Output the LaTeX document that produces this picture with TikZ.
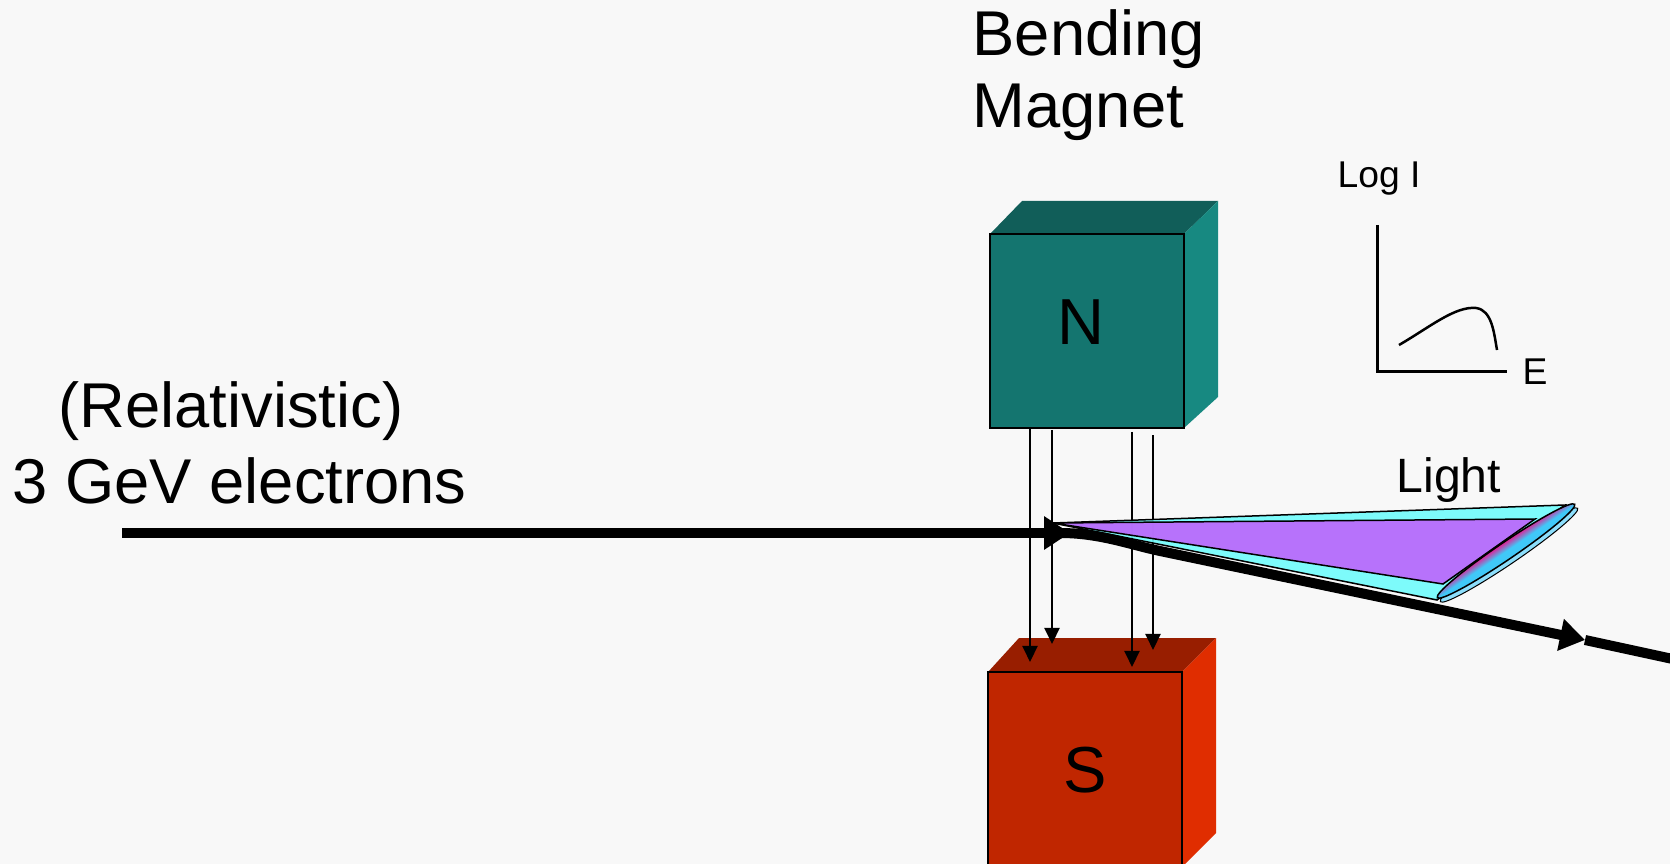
\documentclass[tikz,border=0pt]{standalone}
\usepackage{fontspec}
\setmainfont{Liberation Sans}
\usepackage{tikz}
\tikzset{>=latex}
\usetikzlibrary{arrows.meta}
\usetikzlibrary{calc}
\definecolor{paper}{HTML}{F8F8F8}
\definecolor{northfront}{RGB}{20,117,111}
\definecolor{northtop}{RGB}{17,94,89}
\definecolor{northside}{RGB}{23,137,129}
\definecolor{southfront}{RGB}{192,38,0}
\definecolor{southtop}{RGB}{152,30,0}
\definecolor{southside}{RGB}{224,45,0}
\definecolor{lightouter}{RGB}{112,252,252}
\definecolor{lightinner}{RGB}{190,100,252}
\definecolor{spotblue}{RGB}{64,200,248}
\definecolor{spotpink}{RGB}{224,32,150}

\begin{document}
\begin{tikzpicture}[x=0.01cm,y=-0.01cm,
    beam/.style={line width=0.1cm},
    fieldline/.style={line width=0.02cm,-{Triangle[length=0.16cm,width=0.15cm]}},
    face/.style={line width=0.025cm},
    cone/.style={draw=black,line width=0.015cm,fill opacity=0.9},
    bigtext/.style={inner sep=0pt,font=\fontsize{18}{20.5}\selectfont},
    poletext/.style={inner sep=0pt,font=\fontsize{18.5}{21}\selectfont},
    smalltext/.style={inner sep=0pt,font=\fontsize{10.6}{12}\selectfont}
  ]
  \fill[paper] (0,0) rectangle (1670,864);
  \useasboundingbox (0,0) rectangle (1670,864);

  % south pole
  \fill[southtop] (988,672) -- (1019,638) -- (1216,638) -- (1182,672) -- cycle;
  \fill[southside] (1182,672) -- (1216,638) -- (1216,833) -- (1182,867) -- cycle;
  \filldraw[fill=southfront,face] (988,672) rectangle (1182,890);
  \node[poletext] (south) at (1085,770) {S};

  % north pole
  \fill[northtop] (990,234) -- (1022,201) -- (1218,201) -- (1184,234) -- cycle;
  \fill[northside] (1184,234) -- (1218,201) -- (1218,397) -- (1184,428) -- cycle;
  \filldraw[fill=northfront,face] (990,234) rectangle (1184,428);
  \node[poletext] (north) at (1081,322) {N};

  \foreach \x/\ya/\yb in {1030/428/662,1052/430/644,1132/432/667,1153/435/650}
    \draw[fieldline] (\x,\ya) -- (\x,\yb);

  % light fan
  \coordinate (apex) at (1053,523);
  \filldraw[cone,fill=lightouter] (apex) -- (1565,505) -- (1437,600) -- cycle;
  \filldraw[cone,fill=lightinner] (apex) -- (1535,519) -- (1443,584) -- cycle;
  \begin{scope}[transform canvas={shift={(1509,555)},rotate=34.2}]
    \filldraw[fill=spotblue!60,line width=0.01cm] (0,0) ellipse [x radius=0.83cm,y radius=0.085cm];
  \end{scope}
  \begin{scope}[transform canvas={shift={(1506,551)},rotate=34.2}]
    \shade[top color=spotpink,bottom color=spotblue,middle color=spotblue] (0,0) ellipse [x radius=0.83cm,y radius=0.085cm];
    \draw[line width=0.015cm] (0,0) ellipse [x radius=0.83cm,y radius=0.085cm];
  \end{scope}
  \node[inner sep=0pt,font=\fontsize{13.7}{16}\selectfont,anchor=base west] (light) at (1396,492) {Light};

  % electron beam
  \coordinate (gun) at (122,533);
  \coordinate (entry) at (1070,533);
  \coordinate (bend) at (1160,551);
  \coordinate (mid) at (1585,640);
  \coordinate (exit) at (1705,666);
  \draw[beam,-{Triangle[length=0.26cm,width=0.32cm]}] (gun) -- (entry);
  \draw[beam,-{Triangle[length=0.25cm,width=0.31cm]}] (1060,533) .. controls (1100,533) and (1130,544.7) .. (bend) -- (mid);
  \draw[beam] (mid) -- (exit);

  \node[bigtext,anchor=base west] (rel) at (58,427) {(Relativistic)};
  \node[bigtext,anchor=base west] (gev) at (12,503) {3 GeV electrons};
  \node[bigtext,anchor=base west] (bending) at (972,56) {Bending};
  \node[bigtext,anchor=base west] (magnet) at (972,128) {Magnet};

  % spectrum sketch
  \coordinate (origin) at (1377,372);
  \draw[line width=0.03cm] (1377,225) -- (origin) -- (1507,372);
  \draw[line width=0.025cm] (1399,345) .. controls (1430,327) and (1455,306) .. (1476,308)
    .. controls (1492,310) and (1494,333) .. (1497,350);
  \node[smalltext,anchor=base west] (logi) at (1337,188) {Log I};
  \node[smalltext,anchor=base west] (energy) at (1522,385) {E};
\end{tikzpicture}
\end{document}
